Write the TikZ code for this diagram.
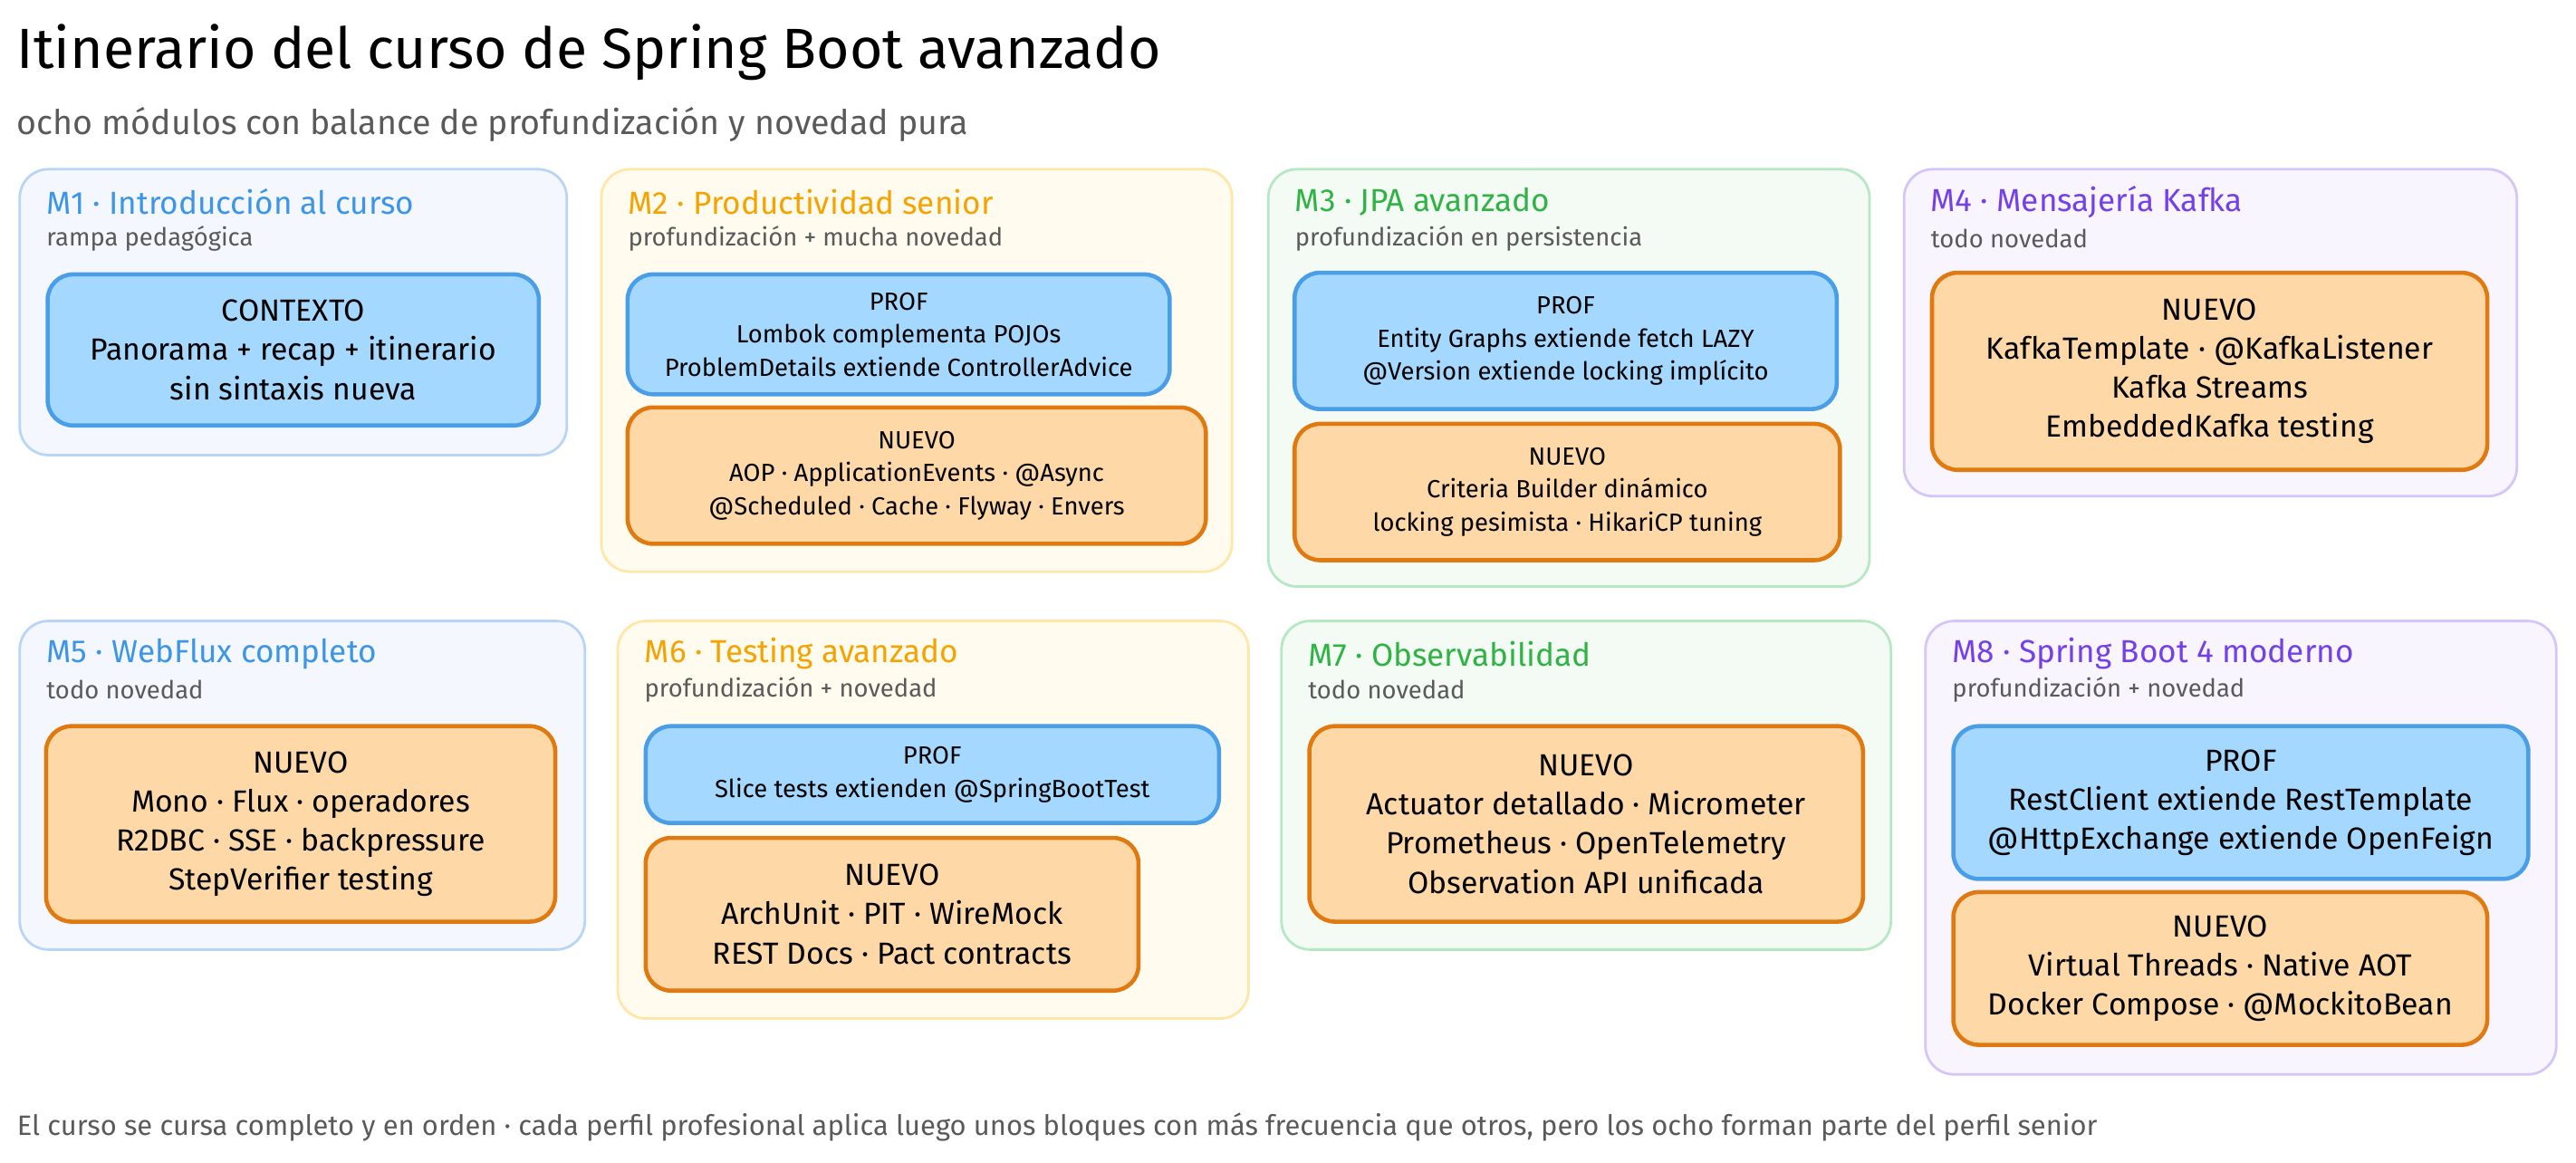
\documentclass[tikz,border=0pt]{standalone}
\usepackage{fontspec}
\setmainfont{Fira Sans}
\begin{document}
\definecolor{bS}{HTML}{B9D5F5}\definecolor{bF}{HTML}{F4F8FE}\definecolor{bT}{HTML}{3D95E8}
\definecolor{yS}{HTML}{FFE7A8}\definecolor{yF}{HTML}{FFFBEE}\definecolor{yT}{HTML}{F5A300}
\definecolor{gS}{HTML}{B6E8C4}\definecolor{gF}{HTML}{F3FBF4}\definecolor{gT}{HTML}{2FB344}
\definecolor{pS}{HTML}{D5C6FA}\definecolor{pF}{HTML}{F8F5FF}\definecolor{pT}{HTML}{7340EA}
\definecolor{profF}{HTML}{A5D8FF}\definecolor{profS}{HTML}{4A9EE8}
\definecolor{nuF}{HTML}{FFD8A8}\definecolor{nuS}{HTML}{E07A10}
\definecolor{gry}{HTML}{5A5A5A}
\begin{tikzpicture}[x=0.01814cm,y=-0.01814cm,
  panel/.style={draw=#1S,fill=#1F,line width=0.8pt,rounded corners=9pt},
  ptitle/.style={anchor=west,inner sep=0pt,text=#1T,font=\fontsize{10}{11}\selectfont},
  psub/.style={anchor=west,inner sep=0pt,text=gry,font=\fontsize{7.8}{9}\selectfont},
  prof/.style={draw=profS,fill=profF,line width=1.3pt,rounded corners=8pt},
  nuevo/.style={draw=nuS,fill=nuF,line width=1.3pt,rounded corners=8pt},
  btxt/.style={align=center,font=\fontsize{9.6}{12.3}\selectfont},
  stxt/.style={align=center,font=\fontsize{7.8}{10.4}\selectfont}]
\useasboundingbox (0,0) rectangle (1568,707.4);
\node[anchor=west,inner sep=0pt,font=\fontsize{17.8}{20}\selectfont] (title) at (10,32) {Itinerario del curso de Spring Boot avanzado};
\node[anchor=west,inner sep=0pt,text=gry,font=\fontsize{10.7}{12}\selectfont] (sub) at (10,76) {ocho módulos con balance de profundización y novedad pura};
\newcommand{\pnl}[8]{%
  \draw[panel=#2] (#3,#4) rectangle (#5,#6);
  \node[ptitle=#2] (#1t) at (#3+16,#4+20) {#7};
  \node[psub] (#1s) at (#3+16,#4+42) {#8};}
\pnl{m1}{b}{12}{103}{345}{277}{M1 · Introducción al curso}{rampa pedagógica}
\pnl{m2}{y}{366}{103}{750}{348}{M2 · Productividad senior}{profundización + mucha novedad}
\pnl{m3}{g}{772}{103}{1138}{357}{M3 · JPA avanzado}{profundización en persistencia}
\pnl{m4}{p}{1159}{103}{1532}{302}{M4 · Mensajería Kafka}{todo novedad}
\pnl{m5}{b}{12}{378}{356}{578}{M5 · WebFlux completo}{todo novedad}
\pnl{m6}{y}{376}{378}{760}{620}{M6 · Testing avanzado}{profundización + novedad}
\pnl{m7}{g}{780}{378}{1151}{578}{M7 · Observabilidad}{todo novedad}
\pnl{m8}{p}{1172}{378}{1556}{654}{M8 · Spring Boot 4 moderno}{profundización + novedad}
\newcommand{\bx}[7]{\draw[#2] (#3,#4) rectangle (#5,#6); \node[btxt] (#1) at ({(#3+#5)/2},{(#4+#6)/2}) {#7};}
\newcommand{\sbx}[7]{\draw[#2] (#3,#4) rectangle (#5,#6); \node[stxt] (#1) at ({(#3+#5)/2},{(#4+#6)/2}) {#7};}
\bx{c1}{prof}{29}{167}{328}{259}{CONTEXTO\\Panorama + recap + itinerario\\sin sintaxis nueva}
\sbx{p2}{prof}{382}{167}{712}{240}{PROF\\Lombok complementa POJOs\\ProblemDetails extiende ControllerAdvice}
\sbx{n2}{nuevo}{382}{248}{734}{331}{NUEVO\\AOP · ApplicationEvents · @Async\\@Scheduled · Cache · Flyway · Envers}
\sbx{p3}{prof}{788}{166}{1118}{249}{PROF\\Entity Graphs extiende fetch LAZY\\@Version extiende locking implícito}
\sbx{n3}{nuevo}{788}{258}{1120}{341}{NUEVO\\Criteria Builder dinámico\\locking pesimista · HikariCP tuning}
\bx{n4}{nuevo}{1176}{166}{1514}{286}{NUEVO\\KafkaTemplate · @KafkaListener\\Kafka Streams\\EmbeddedKafka testing}
\bx{n5}{nuevo}{28}{442}{338}{561}{NUEVO\\Mono · Flux · operadores\\R2DBC · SSE · backpressure\\StepVerifier testing}
\sbx{p6}{prof}{393}{442}{742}{501}{PROF\\Slice tests extienden @SpringBootTest}
\bx{n6}{nuevo}{393}{510}{693}{603}{NUEVO\\ArchUnit · PIT · WireMock\\REST Docs · Pact contracts}
\bx{n7}{nuevo}{797}{442}{1134}{561}{NUEVO\\Actuator detallado · Micrometer\\Prometheus · OpenTelemetry\\Observation API unificada}
\bx{p8}{prof}{1189}{442}{1539}{535}{PROF\\RestClient extiende RestTemplate\\@HttpExchange extiende OpenFeign}
\bx{n8}{nuevo}{1189}{543}{1514}{636}{NUEVO\\Virtual Threads · Native AOT\\Docker Compose · @MockitoBean}
\node[anchor=west,inner sep=0pt,text=gry,font=\fontsize{8.8}{10}\selectfont] (foot) at (10,686) {El curso se cursa completo y en orden · cada perfil profesional aplica luego unos bloques con más frecuencia que otros, pero los ocho forman parte del perfil senior};
\end{tikzpicture}
\end{document}
